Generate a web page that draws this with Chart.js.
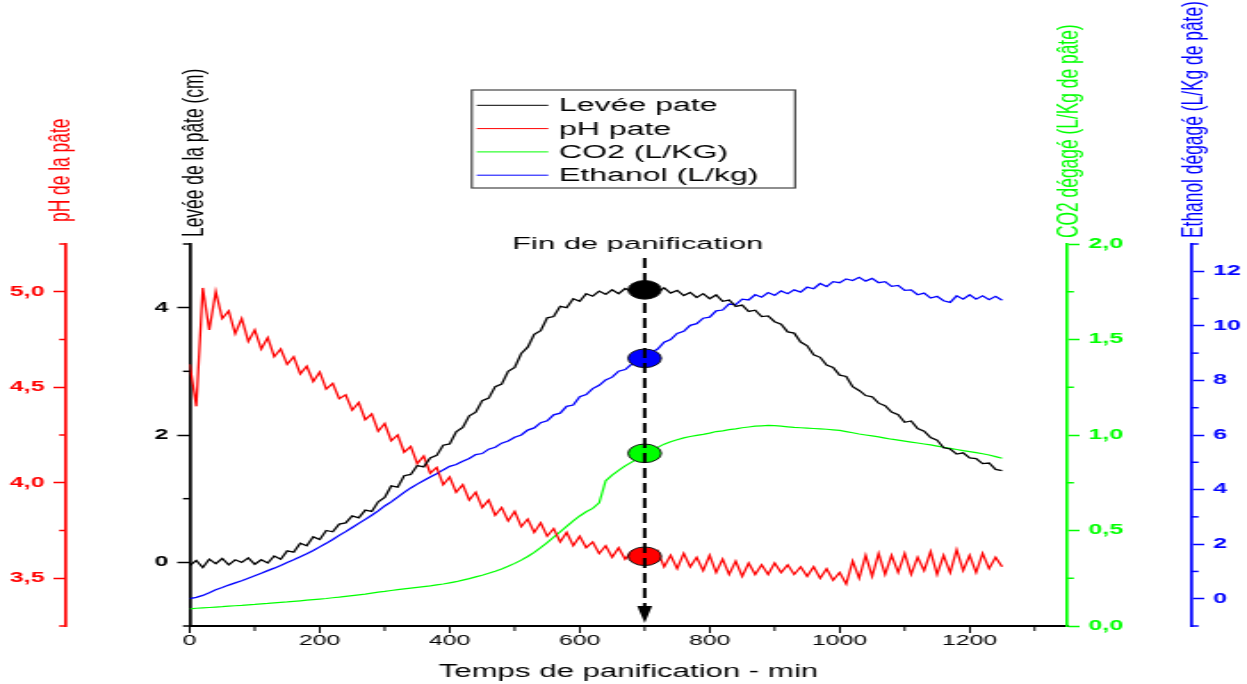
<!DOCTYPE html>
<html>
<head>
<meta charset="utf-8">
<title>Fin de panification</title>
<script src="https://cdn.jsdelivr.net/npm/chart.js@4.4.1/dist/chart.umd.min.js"></script>
<style>
  html, body { margin: 0; padding: 0; background: #fff; overflow: hidden; }
</style>
</head>
<body>
<!-- the original figure is stretched sideways, so the canvas is drawn narrow and widened by CSS -->
<canvas id="chart" width="700" height="684" style="width:1247px;height:684px"></canvas>
<script>
// time axis (min)
const minutes = [
  0, 10, 20, 30, 40, 50, 60, 70, 80, 90,
  100, 110, 120, 130, 140, 150, 160, 170, 180, 190,
  200, 210, 220, 230, 240, 250, 260, 270, 280, 290,
  300, 310, 320, 330, 340, 350, 360, 370, 380, 390,
  400, 410, 420, 430, 440, 450, 460, 470, 480, 490,
  500, 510, 520, 530, 540, 550, 560, 570, 580, 590,
  600, 610, 620, 630, 640, 650, 660, 670, 680, 690,
  700, 710, 720, 730, 740, 750, 760, 770, 780, 790,
  800, 810, 820, 830, 840, 850, 860, 870, 880, 890,
  900, 910, 920, 930, 940, 950, 960, 970, 980, 990,
  1000, 1010, 1020, 1030, 1040, 1050, 1060, 1070, 1080, 1090,
  1100, 1110, 1120, 1130, 1140, 1150, 1160, 1170, 1180, 1190,
  1200, 1210, 1220, 1230, 1240, 1250
];

// Levée de la pâte (cm)
const levee = [
  -0.05, 0.03, -0.08, 0.05, -0.02, 0.06, -0.04, 0.04, 0.00, 0.07,
  -0.03, 0.04, -0.01, 0.10, 0.05, 0.18, 0.16, 0.30, 0.26, 0.40,
  0.36, 0.50, 0.48, 0.60, 0.62, 0.73, 0.70, 0.82, 0.80, 0.95,
  1.02, 1.20, 1.18, 1.36, 1.38, 1.52, 1.50, 1.64, 1.68, 1.84,
  1.86, 2.05, 2.12, 2.30, 2.36, 2.54, 2.58, 2.76, 2.80, 3.00,
  3.06, 3.28, 3.38, 3.58, 3.64, 3.84, 3.86, 4.02, 4.00, 4.14,
  4.10, 4.22, 4.18, 4.26, 4.21, 4.28, 4.22, 4.30, 4.25, 4.31,
  4.27, 4.30, 4.24, 4.31, 4.23, 4.27, 4.19, 4.24, 4.16, 4.22,
  4.14, 4.20, 4.10, 4.12, 4.02, 4.04, 3.94, 3.96, 3.86, 3.87,
  3.78, 3.74, 3.62, 3.60, 3.46, 3.40, 3.26, 3.22, 3.10, 3.06,
  2.94, 2.92, 2.76, 2.70, 2.62, 2.60, 2.50, 2.46, 2.36, 2.32,
  2.20, 2.22, 2.10, 2.06, 1.96, 1.92, 1.80, 1.78, 1.70, 1.72,
  1.64, 1.63, 1.55, 1.56, 1.46, 1.44
];

// pH de la pâte
const ph = [
  4.62, 4.40, 5.02, 4.80, 5.00, 4.86, 4.90, 4.78, 4.86, 4.74,
  4.80, 4.70, 4.76, 4.66, 4.70, 4.62, 4.66, 4.57, 4.61, 4.53,
  4.58, 4.49, 4.52, 4.44, 4.46, 4.38, 4.42, 4.33, 4.36, 4.27,
  4.31, 4.22, 4.25, 4.16, 4.19, 4.10, 4.14, 4.05, 4.08, 3.99,
  4.03, 3.95, 3.99, 3.91, 3.95, 3.87, 3.91, 3.83, 3.87, 3.80,
  3.85, 3.77, 3.81, 3.74, 3.79, 3.72, 3.76, 3.69, 3.74, 3.67,
  3.72, 3.66, 3.69, 3.63, 3.67, 3.61, 3.66, 3.60, 3.64, 3.59,
  3.63, 3.58, 3.64, 3.56, 3.62, 3.55, 3.63, 3.56, 3.61, 3.54,
  3.62, 3.53, 3.60, 3.52, 3.59, 3.51, 3.58, 3.52, 3.57, 3.52,
  3.58, 3.53, 3.57, 3.52, 3.56, 3.51, 3.56, 3.50, 3.55, 3.49,
  3.53, 3.47, 3.59, 3.50, 3.62, 3.51, 3.63, 3.52, 3.62, 3.53,
  3.63, 3.52, 3.61, 3.54, 3.64, 3.52, 3.62, 3.53, 3.65, 3.54,
  3.62, 3.53, 3.63, 3.55, 3.61, 3.56
];

// CO2 dégagé (L/kg de pâte)
const co2 = [
  0.090, 0.093, 0.095, 0.097, 0.099, 0.101, 0.104, 0.106, 0.108, 0.111,
  0.113, 0.116, 0.118, 0.121, 0.124, 0.126, 0.129, 0.132, 0.135, 0.138,
  0.141, 0.144, 0.148, 0.151, 0.155, 0.159, 0.163, 0.167, 0.172, 0.177,
  0.181, 0.186, 0.190, 0.194, 0.198, 0.202, 0.206, 0.210, 0.215, 0.220,
  0.226, 0.232, 0.240, 0.248, 0.257, 0.266, 0.276, 0.287, 0.299, 0.313,
  0.328, 0.345, 0.364, 0.386, 0.410, 0.437, 0.465, 0.493, 0.522, 0.550,
  0.576, 0.598, 0.616, 0.645, 0.760, 0.790, 0.815, 0.838, 0.858, 0.878,
  0.895, 0.915, 0.935, 0.952, 0.965, 0.975, 0.985, 0.992, 0.998, 1.003,
  1.010, 1.018, 1.022, 1.028, 1.032, 1.038, 1.042, 1.046, 1.048, 1.050,
  1.049, 1.046, 1.043, 1.040, 1.038, 1.036, 1.034, 1.032, 1.030, 1.027,
  1.024, 1.018, 1.012, 1.005, 1.000, 0.995, 0.990, 0.984, 0.978, 0.973,
  0.968, 0.963, 0.958, 0.953, 0.948, 0.942, 0.936, 0.930, 0.924, 0.918,
  0.913, 0.908, 0.902, 0.895, 0.887, 0.878
];

// Ethanol dégagé (L/kg de pâte)
const ethanol = [
  0.00, 0.05, 0.12, 0.22, 0.33, 0.41, 0.50, 0.58, 0.66, 0.75,
  0.84, 0.93, 1.03, 1.12, 1.22, 1.33, 1.43, 1.54, 1.65, 1.77,
  1.90, 2.03, 2.17, 2.32, 2.46, 2.61, 2.76, 2.91, 3.06, 3.22,
  3.40, 3.55, 3.72, 3.90, 4.06, 4.20, 4.33, 4.46, 4.58, 4.72,
  4.85, 4.92, 5.04, 5.14, 5.28, 5.32, 5.48, 5.55, 5.70, 5.78,
  5.92, 6.00, 6.18, 6.26, 6.45, 6.52, 6.74, 6.80, 7.05, 7.10,
  7.40, 7.48, 7.70, 7.82, 8.02, 8.12, 8.34, 8.40, 8.60, 8.66,
  8.82, 9.02, 9.15, 9.40, 9.50, 9.72, 9.80, 10.02, 10.08, 10.28,
  10.32, 10.55, 10.58, 10.80, 10.78, 10.98, 10.95, 11.14, 11.05, 11.22,
  11.12, 11.28, 11.18, 11.32, 11.24, 11.42, 11.36, 11.55, 11.44, 11.62,
  11.58, 11.72, 11.66, 11.78, 11.64, 11.74, 11.58, 11.62, 11.45, 11.48,
  11.30, 11.32, 11.14, 11.20, 11.02, 11.08, 10.92, 10.86, 11.10, 10.98,
  11.14, 10.98, 11.10, 10.96, 11.08, 10.94
];

// end of bread making, and the value of each curve there
const markerTime = 700;
const markerLevee = 4.28;
const markerPh = 3.615;
const markerCo2 = 0.904;
const markerEthanol = 8.81;

const seriesLabels = ["Levée pate", "pH pate", "CO2 (L/KG)", "Ethanol (L/kg)"];
const axisTitles = ["pH de la pâte", "Levée de la pâte (cm)", "CO2 dégagé (L/Kg de pâte)", "Ethanol dégagé (L/Kg de pâte)"];
const xTitle = "Temps de panification - min";
const arrowLabel = "Fin de panification";

const FONT = "'Liberation Sans', Arial, Helvetica, sans-serif";
Chart.defaults.font.family = FONT;

const RED = "#ff0000";
const GREEN = "#00ff00";
const BLUE = "#0000ff";
const BLACK = "#000000";

const toPoints = (values) => minutes.map((m, i) => ({ x: m, y: values[i] }));
const onStep = (v, start, step) => {
	const n = (v - start) / step;
	return Math.abs(n - Math.round(n)) < 1e-6;
};
const comma = (v) => v.toFixed(1).replace(".", ",");

function yAxis({ position, weight, min, max, step, width, color, major, format }) {
	return {
		type: "linear",
		position,
		weight,
		min,
		max,
		afterFit: (scale) => {
			scale.width = width;
		},
		border: { display: true, color, width: 1.7 },
		grid: {
			drawOnChartArea: false,
			drawTicks: true,
			tickLength: 7,
			tickWidth: 1.5,
			tickColor: (c) => (c.tick && major(c.tick.value) ? color : "rgba(0,0,0,0)"),
		},
		ticks: {
			stepSize: step,
			autoSkip: false,
			includeBounds: false,
			padding: 5,
			color,
			font: { size: 14, weight: "bold" },
			callback: (v) => (major(v) ? format(v) : ""),
		},
	};
}

const markerDataset = (value, axis, color) => ({
	type: "line",
	label: "",
	data: [{ x: markerTime, y: value }],
	yAxisID: axis,
	showLine: false,
	pointStyle: "circle",
	pointRadius: 9.3,
	pointBackgroundColor: color,
	pointBorderColor: "#111",
	pointBorderWidth: 1,
	order: -1,
});

// short minor ticks, drawn with each scale's own pixel mapping
const minorTicks = {
	id: "minorTicks",
	afterDraw(chart) {
		const ctx = chart.ctx;
		const colors = { x: BLACK, yPh: RED, yLevee: BLACK, yCo2: GREEN, yEth: BLUE };
		ctx.save();
		Object.values(chart.scales).forEach((s) => {
			ctx.strokeStyle = colors[s.id];
			s.ticks.forEach((t) => {
				if (t.label !== "") return;
				const p = s.getPixelForValue(t.value);
				ctx.beginPath();
				if (s.position === "left") {
					ctx.lineWidth = 1.5;
					ctx.moveTo(s.right, p);
					ctx.lineTo(s.right - 3.8, p);
				} else if (s.position === "right") {
					ctx.lineWidth = 1.5;
					ctx.moveTo(s.left, p);
					ctx.lineTo(s.left + 3.8, p);
				} else {
					ctx.lineWidth = 1;
					ctx.moveTo(p, s.top);
					ctx.lineTo(p, s.top + 5);
				}
				ctx.stroke();
			});
		});
		ctx.restore();
	},
};

// rotated axis titles standing on top of each vertical axis
const axisTitlePlugin = {
	id: "axisTitlePlugin",
	afterDraw(chart) {
		const ctx = chart.ctx;
		const top = chart.chartArea.top;
		const sc = chart.scales;
		const items = [
			{ text: axisTitles[0], x: sc.yPh.right - 3.2, gap: 22, color: RED },
			{ text: axisTitles[1], x: sc.yLevee.right + 2.6, gap: 7, color: BLACK },
			{ text: axisTitles[2], x: sc.yCo2.left + 1.3, gap: 6, color: GREEN },
			{ text: axisTitles[3], x: sc.yEth.left + 1.3, gap: 6, color: BLUE },
		];
		items.forEach((it) => {
			ctx.save();
			ctx.translate(it.x, top - it.gap);
			ctx.rotate(-Math.PI / 2);
			ctx.fillStyle = it.color;
			ctx.font = `17.4px ${FONT}`;
			ctx.textAlign = "left";
			ctx.textBaseline = "middle";
			ctx.fillText(it.text, 0, 0);
			ctx.restore();
		});
	},
};

// boxed legend above the plot
const boxLegend = {
	id: "boxLegend",
	afterDraw(chart) {
		const ctx = chart.ctx;
		ctx.save();
		ctx.strokeStyle = "#444";
		ctx.lineWidth = 1.2;
		ctx.strokeRect(264.8, 90, 181.5, 98);
		ctx.font = `18px ${FONT}`;
		ctx.textAlign = "left";
		ctx.textBaseline = "middle";
		for (let i = 0; i < 4; i++) {
			const ds = chart.data.datasets[i];
			const y = 105.3 + i * 23.3;
			ctx.strokeStyle = ds.borderColor;
			ctx.lineWidth = 1;
			ctx.beginPath();
			ctx.moveTo(267.6, y);
			ctx.lineTo(307.8, y);
			ctx.stroke();
			ctx.fillStyle = BLACK;
			ctx.fillText(ds.label, 313.8, y + 1);
		}
		ctx.restore();
	},
};

// dashed arrow marking the end of bread making
const endArrow = {
	id: "endArrow",
	afterDatasetsDraw(chart) {
		const ctx = chart.ctx;
		const x = chart.scales.x.getPixelForValue(markerTime);
		const bottom = chart.chartArea.bottom;
		ctx.save();
		ctx.strokeStyle = BLACK;
		ctx.lineWidth = 2;
		ctx.setLineDash([10, 5]);
		ctx.beginPath();
		ctx.moveTo(x, 258);
		ctx.lineTo(x, bottom - 19);
		ctx.stroke();
		ctx.setLineDash([]);
		ctx.fillStyle = BLACK;
		ctx.beginPath();
		ctx.moveTo(x - 4.2, bottom - 20);
		ctx.lineTo(x + 4.2, bottom - 20);
		ctx.lineTo(x, bottom - 3);
		ctx.closePath();
		ctx.fill();
		ctx.font = `17.4px ${FONT}`;
		ctx.textAlign = "center";
		ctx.textBaseline = "alphabetic";
		ctx.fillText(arrowLabel, x - 3.9, 248.5);
		ctx.restore();
	},
};

new Chart(document.getElementById("chart"), {
	type: "line",
	data: {
		datasets: [
			{ label: seriesLabels[0], data: toPoints(levee), yAxisID: "yLevee", borderColor: BLACK, borderWidth: 1.3, pointRadius: 0 },
			{ label: seriesLabels[1], data: toPoints(ph), yAxisID: "yPh", borderColor: RED, borderWidth: 1.3, pointRadius: 0 },
			{ label: seriesLabels[2], data: toPoints(co2), yAxisID: "yCo2", borderColor: GREEN, borderWidth: 1.2, pointRadius: 0 },
			{ label: seriesLabels[3], data: toPoints(ethanol), yAxisID: "yEth", borderColor: BLUE, borderWidth: 1.3, pointRadius: 0 },
			markerDataset(markerLevee, "yLevee", BLACK),
			markerDataset(markerEthanol, "yEth", BLUE),
			markerDataset(markerCo2, "yCo2", GREEN),
			markerDataset(markerPh, "yPh", RED),
		],
	},
	options: {
		responsive: false,
		animation: false,
		layout: { padding: { top: 244, left: 0, right: 0, bottom: 0 } },
		plugins: {
			legend: { display: false },
			tooltip: { enabled: false },
		},
		scales: {
			x: {
				type: "linear",
				position: "bottom",
				min: 0,
				max: 1350,
				afterFit: (scale) => {
					scale.height = 58;
				},
				border: { display: true, color: BLACK, width: 2 },
				grid: {
					drawOnChartArea: false,
					tickLength: 7,
					tickWidth: 1,
					tickColor: (c) => (c.tick && onStep(c.tick.value, 0, 200) ? BLACK : "rgba(0,0,0,0)"),
				},
				ticks: {
					stepSize: 100,
					autoSkip: false,
					includeBounds: false,
					maxRotation: 0,
					padding: 0,
					color: BLACK,
					font: { size: 14 },
					callback: (v) => (onStep(v, 0, 200) ? String(v) : ""),
				},
				title: {
					display: true,
					text: xTitle,
					color: BLACK,
					font: { size: 17.5 },
					padding: { top: 0, bottom: 1.5 },
				},
			},
			yPh: yAxis({
				position: "left", weight: 1, min: 3.25, max: 5.25, step: 0.25, width: 37, color: RED,
				major: (v) => onStep(v, 3.5, 0.5), format: comma,
			}),
			yLevee: yAxis({
				position: "left", weight: 0, min: -1, max: 5, step: 1, width: 69.5, color: BLACK,
				major: (v) => onStep(v, 0, 2), format: (v) => String(v),
			}),
			yCo2: yAxis({
				position: "right", weight: 0, min: 0, max: 2, step: 0.25, width: 70, color: GREEN,
				major: (v) => onStep(v, 0, 0.5), format: comma,
			}),
			yEth: yAxis({
				position: "right", weight: 1, min: -1, max: 13, step: 1, width: 31, color: BLUE,
				major: (v) => onStep(v, 0, 2), format: (v) => String(v),
			}),
		},
	},
	plugins: [minorTicks, axisTitlePlugin, boxLegend, endArrow],
});
</script>
</body>
</html>
